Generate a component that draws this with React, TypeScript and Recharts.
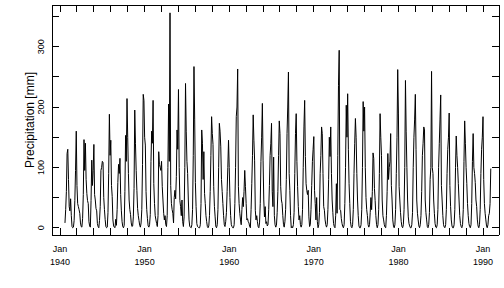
import React from 'react';
import { LineChart, Line, XAxis, YAxis } from 'recharts';

// series starts August 1940, one value per month
const FIRST_YEAR = 1940;
const FIRST_MONTH = 8;

// monthly precipitation [mm], one line per calendar year
const precipitation = [
  8, 30, 60, 123, 130, // 1940 (Aug-Dec)
  80, 35, 28, 48, 20, 2, 0, 1, 12, 45, 95, 160, // 1941
  70, 40, 35, 30, 24, 8, 2, 1, 15, 55, 146, 95, // 1942
  140, 80, 57, 45, 40, 10, 3, 1, 45, 112, 70, 95, // 1943
  138, 55, 46, 32, 28, 7, 2, 0, 12, 35, 95, 100, // 1944
  110, 108, 50, 30, 14, 2, 0, 1, 25, 90, 188, 120, // 1945
  145, 70, 52, 13, 3, 1, 0, 14, 4, 30, 75, 105, // 1946
  90, 115, 55, 28, 10, 2, 0, 4, 60, 153, 110, 214, // 1947
  150, 90, 46, 30, 22, 8, 2, 3, 18, 65, 195, 140, // 1948
  95, 62, 32, 20, 12, 4, 1, 8, 30, 105, 221, 211, // 1949
  150, 137, 60, 30, 15, 3, 1, 5, 22, 110, 160, 140, // 1950
  211, 73, 40, 20, 13, 7, 2, 20, 126, 105, 100, 95, // 1951
  110, 68, 46, 24, 13, 20, 5, 2, 20, 100, 205, 110, // 1952
  356, 70, 40, 30, 24, 8, 50, 62, 48, 85, 162, 130, // 1953
  229, 100, 45, 35, 20, 46, 10, 2, 18, 100, 239, 160, // 1954
  110, 90, 46, 13, 2, 1, 0, 5, 30, 120, 267, 180, // 1955
  75, 35, 7, 2, 1, 0, 0, 5, 40, 162, 140, 80, // 1956
  126, 57, 40, 20, 10, 2, 0, 3, 20, 60, 120, 184, // 1957
  156, 138, 68, 35, 18, 2, 0, 5, 30, 100, 173, 160, // 1958
  134, 80, 60, 40, 20, 5, 2, 10, 25, 60, 100, 145, // 1959
  100, 50, 20, 5, 2, 0, 0, 5, 40, 100, 184, 200, // 1960
  263, 68, 40, 24, 13, 5, 30, 50, 35, 60, 95, 68, // 1961
  40, 13, 15, 10, 8, 2, 0, 30, 73, 120, 187, 145, // 1962
  112, 29, 13, 20, 10, 2, 0, 8, 40, 110, 150, 206, // 1963
  112, 46, 18, 35, 7, 10, 3, 5, 30, 70, 120, 140, // 1964
  173, 60, 35, 117, 20, 5, 1, 4, 25, 60, 120, 177, // 1965
  156, 68, 46, 40, 20, 5, 1, 10, 30, 80, 156, 200, // 1966
  258, 90, 62, 20, 0, 2, 0, 5, 25, 90, 156, 189, // 1967
  110, 68, 35, 13, 20, 5, 1, 5, 30, 100, 167, 211, // 1968
  118, 73, 62, 55, 62, 18, 2, 5, 30, 70, 110, 130, // 1969
  151, 62, 40, 13, 50, 10, 0, 5, 25, 90, 120, 167, // 1970
  156, 90, 35, 29, 13, 5, 1, 5, 30, 80, 150, 118, // 1971
  167, 90, 46, 25, 7, 2, 0, 20, 73, 24, 120, 236, // 1972
  294, 30, 29, 15, 7, 2, 0, 5, 40, 100, 203, 150, // 1973
  222, 130, 73, 40, 10, 2, 0, 5, 30, 90, 140, 181, // 1974
  150, 90, 46, 20, 3, 0, 0, 5, 30, 100, 209, 160, // 1975
  200, 100, 50, 30, 20, 5, 1, 5, 25, 50, 30, 60, // 1976
  124, 115, 65, 45, 20, 5, 0, 5, 30, 90, 189, 150, // 1977
  120, 46, 20, 13, 5, 1, 0, 20, 60, 123, 80, 100, // 1978
  110, 156, 70, 46, 13, 3, 0, 5, 30, 90, 150, 262, // 1979
  190, 68, 46, 25, 10, 2, 0, 5, 30, 100, 244, 160, // 1980
  100, 46, 18, 7, 3, 0, 0, 5, 25, 100, 150, 180, // 1981
  221, 130, 46, 24, 13, 3, 0, 5, 20, 60, 120, 140, // 1982
  167, 162, 46, 25, 13, 2, 0, 5, 25, 80, 100, 259, // 1983
  100, 90, 46, 24, 7, 1, 0, 5, 30, 100, 140, 180, // 1984
  220, 70, 46, 20, 5, 1, 0, 5, 30, 90, 130, 150, // 1985
  190, 70, 35, 13, 3, 0, 0, 5, 30, 100, 152, 120, // 1986
  100, 73, 46, 20, 7, 2, 0, 5, 30, 110, 177, 140, // 1987
  100, 73, 40, 20, 7, 2, 0, 5, 40, 110, 156, 100, // 1988
  90, 75, 46, 35, 13, 3, 0, 5, 30, 90, 130, 150, // 1989
  184, 80, 40, 24, 13, 3, 0, 5, 20, 24, 40, 98, // 1990
];

const xTicks = [
  1940, 1942, 1944, 1946, 1948, 1950, 1952, 1954, 1956, 1958, 1960, 1962, 1964,
  1966, 1968, 1970, 1972, 1974, 1976, 1978, 1980, 1982, 1984, 1986, 1988, 1990,
];
const xLabelYears = [1940, 1950, 1960, 1970, 1980, 1990];
const yTicks = [0, 50, 100, 150, 200, 250, 300, 350];
const yLabels = [0, 100, 200, 300];

const data = precipitation.map((mm, i) => ({
  t: FIRST_YEAR + (FIRST_MONTH - 1 + i) / 12,
  mm,
}));

const FONT = '"Liberation Sans", Arial, Helvetica, sans-serif';
const TICK_LEN = 7;

const BottomTick = (props: any) => {
  const { x, y, payload } = props;
  const v = payload.value;
  return (
    <g>
      <line x1={x} x2={x} y1={y} y2={y - TICK_LEN} stroke="#000" shapeRendering="crispEdges" />
      {xLabelYears.includes(v) && (
        <text x={x} y={y} textAnchor="middle" fontSize={9} fontFamily={FONT} fill="#000">
          <tspan x={x} dy={17}>Jan</tspan>
          <tspan x={x} dy={12.5}>{v}</tspan>
        </text>
      )}
    </g>
  );
};

const TopTick = (props: any) => {
  const { x, y } = props;
  return <line x1={x} x2={x} y1={y} y2={y + TICK_LEN} stroke="#000" shapeRendering="crispEdges" />;
};

const LeftTick = (props: any) => {
  const { x, y, payload } = props;
  const v = payload.value;
  const lx = x - 10.5;
  return (
    <g>
      <line x1={x} x2={x + TICK_LEN} y1={y} y2={y} stroke="#000" shapeRendering="crispEdges" />
      {yLabels.includes(v) && (
        <text
          x={lx}
          y={y}
          transform={`rotate(-90 ${lx} ${y})`}
          textAnchor="middle"
          dominantBaseline="central"
          fontSize={9}
          fontFamily={FONT}
          fill="#000"
        >
          {v}
        </text>
      )}
    </g>
  );
};

const RightTick = (props: any) => {
  const { x, y } = props;
  return <line x1={x} x2={x - TICK_LEN} y1={y} y2={y} stroke="#000" shapeRendering="crispEdges" />;
};

const YTitle = (props: any) => {
  const vb = props.viewBox || { x: 0, y: 5, width: 52, height: 230 };
  const cx = vb.x + 30;
  const cy = vb.y + vb.height / 2;
  return (
    <text
      x={cx}
      y={cy}
      transform={`rotate(-90 ${cx} ${cy})`}
      textAnchor="middle"
      dominantBaseline="central"
      fontSize={12}
      fontFamily={FONT}
      fill="#000"
    >
      Precipitation [mm]
    </text>
  );
};

const App = () => {
  const xDomain = [1939.05, 1991.89];
  const yDomain = [-12, 369];
  return (
    <div style={{ position: 'absolute', left: 0, top: 0, background: '#fff' }}>
      <LineChart width={504} height={288} data={data} margin={{ top: 4, right: 4, bottom: 0, left: 0 }}>
        <XAxis
          dataKey="t"
          type="number"
          domain={xDomain}
          allowDataOverflow
          ticks={xTicks}
          interval={0}
          tickSize={0}
          tickMargin={0}
          tickLine={false}
          tick={<BottomTick />}
          height={53}
          axisLine={{ stroke: '#000', shapeRendering: 'crispEdges' }}
        />
        <XAxis
          xAxisId="top"
          orientation="top"
          dataKey="t"
          type="number"
          domain={xDomain}
          allowDataOverflow
          ticks={xTicks}
          interval={0}
          tickSize={0}
          tickMargin={0}
          tickLine={false}
          tick={<TopTick />}
          height={1}
          axisLine={{ stroke: '#000', shapeRendering: 'crispEdges' }}
        />
        <YAxis
          type="number"
          domain={yDomain}
          allowDataOverflow
          ticks={yTicks}
          interval={0}
          tickSize={0}
          tickMargin={0}
          tickLine={false}
          tick={<LeftTick />}
          width={52}
          axisLine={{ stroke: '#000', shapeRendering: 'crispEdges' }}
          label={<YTitle />}
        />
        <YAxis
          yAxisId="right"
          orientation="right"
          type="number"
          domain={yDomain}
          allowDataOverflow
          ticks={yTicks}
          interval={0}
          tickSize={0}
          tickMargin={0}
          tickLine={false}
          tick={<RightTick />}
          width={1}
          axisLine={{ stroke: '#000', shapeRendering: 'crispEdges' }}
        />
        <Line
          type="linear"
          dataKey="mm"
          stroke="#000"
          strokeWidth={1}
          dot={false}
          activeDot={false}
          isAnimationActive={false}
        />
      </LineChart>
    </div>
  );
};

export default App;
